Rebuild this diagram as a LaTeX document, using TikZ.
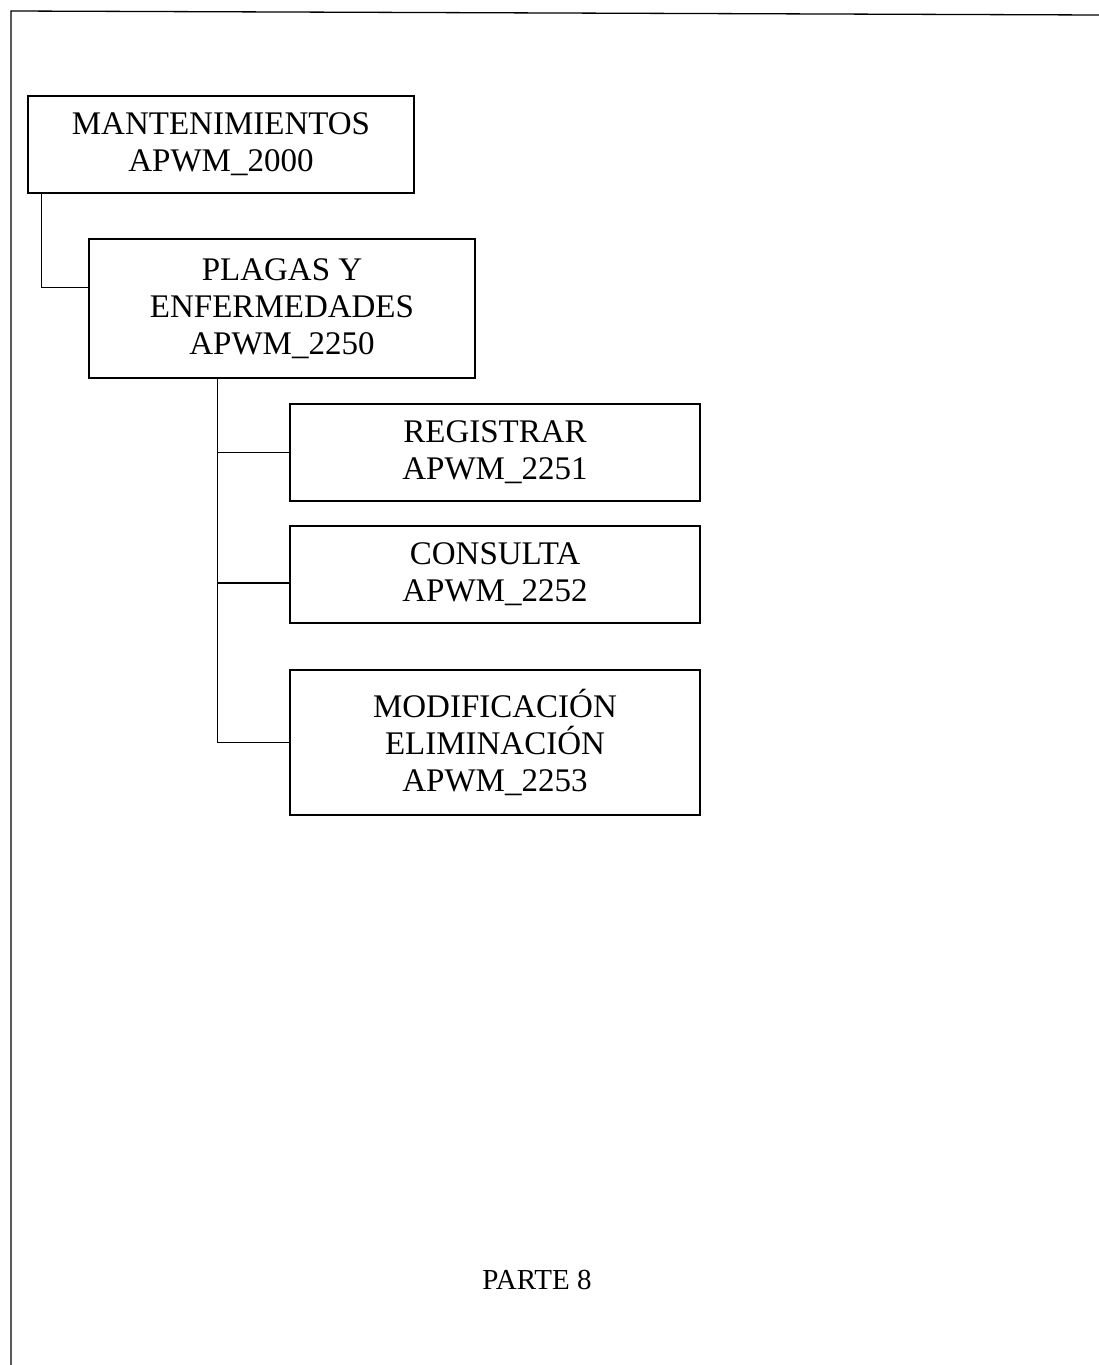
\documentclass[tikz,border=0pt]{standalone}
\usepackage{fontspec}
\setmainfont{Liberation Serif}
\usetikzlibrary{positioning}

\tikzset{
    menubox/.style={rectangle, draw, line width=1.2pt, align=center, inner sep=0pt,
        font=\fontsize{33}{37}\selectfont},
    link/.style={line width=1.2pt}
}

\begin{document}
\begin{tikzpicture}[x=1pt, y=-1pt]

        % Page size and the open frame round it
        \useasboundingbox (0,0) rectangle (1099,1365);
        \coordinate (FrameTL) at (11,11);
        \coordinate (FrameTR) at (1099,15);
        \coordinate (FrameBL) at (11,1365);
        \draw [line width=1.3pt] (FrameBL) -- (FrameTL) -- (FrameTR);

        % Main module and its sub-menu
        \node[menubox, minimum width=386pt, minimum height=97pt] (Mant) at (221,144.5) {MANTENIMIENTOS\\APWM\_2000};
        \node[menubox, minimum width=386pt, minimum height=139pt] (Plagas) at (282,308.5) {PLAGAS Y\\ENFERMEDADES\\APWM\_2250};

        % Loop to draw the three options of the sub-menu
        \foreach \name/\y/\h/\txt in {Reg/452.5/97/{REGISTRAR\\APWM\_2251},
                                      Cons/574.5/97/{CONSULTA\\APWM\_2252},
                                      Modif/742.5/145/{MODIFICACIÓN\\ELIMINACIÓN\\APWM\_2253}} {
            \node[menubox, minimum width=410pt, minimum height=\h pt] (\name) at (495,\y) {\txt};
        }

        % Links between the boxes
        \draw [link] ([xshift=14pt]Mant.south west) |- ([yshift=21pt]Plagas.west);
        \draw [link] ([xshift=129pt]Plagas.south west) |- (Reg.west);
        \draw [link] ([xshift=129pt]Plagas.south west) |- ([yshift=-8.5pt]Cons.west);
        \draw [link] ([xshift=129pt]Plagas.south west) |- (Modif.west);

        % Page label
        \node[font=\fontsize{29}{33}\selectfont] (Parte) at (537,1280) {PARTE 8};

        \end{tikzpicture}
\end{document}
